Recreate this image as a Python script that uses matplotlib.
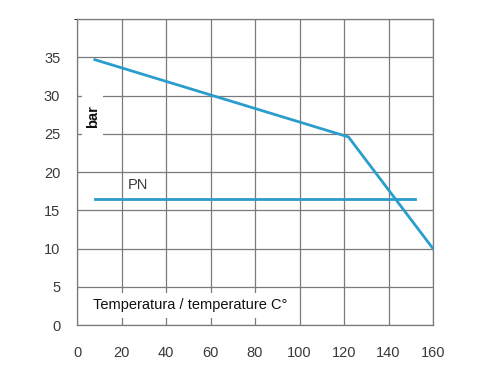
import matplotlib
matplotlib.use("Agg")
import matplotlib.pyplot as plt
from matplotlib.patches import Rectangle

# ── Data ──────────────────────────────────────────────────────────────────────
temp = [8, 122, 160]
pressure = [34.7, 24.6, 10.0]

pn_temp = [8, 152]
pn_pressure = [16.5, 16.5]

x_ticks = [0, 20, 40, 60, 80, 100, 120, 140, 160]
y_ticks = [0, 5, 10, 15, 20, 25, 30, 35]

LINE_COLOR = "#2a9dcc"
GRID_COLOR = "#7a7a7a"

plt.rcParams["font.family"] = ["Liberation Sans", "DejaVu Sans"]

# ── Plot ──────────────────────────────────────────────────────────────────────
fig = plt.figure(figsize=(5, 3.75), dpi=100)
ax = fig.add_axes([0.154, 0.133, 0.712, 0.816])

ax.set_xlim(0, 160)
ax.set_ylim(0, 40)
ax.set_xticks(x_ticks)
ax.set_yticks(y_ticks)
ax.set_yticks([40], minor=True)
ax.grid(True, which="both", color=GRID_COLOR, linewidth=0.9, zorder=0)
ax.tick_params(length=0, labelsize=10.5, labelcolor="#3a3a3a")
ax.tick_params(axis="x", pad=15)
ax.tick_params(axis="y", pad=12)
for s in ax.spines.values():
    s.set_color(GRID_COLOR)
    s.set_linewidth(0.9)

ax.plot(temp, pressure, color=LINE_COLOR, linewidth=2, zorder=3)
ax.plot(pn_temp, pn_pressure, color=LINE_COLOR, linewidth=2, zorder=3)

ax.text(27.5, 18.3, "PN", fontsize=10.5, color="#3a3a3a", ha="center", va="center", zorder=4)

# white patch behind the "bar" label, it cuts the 25 and 30 gridlines
ax.add_patch(Rectangle((2.2, 24.2), 9.5, 6.5, facecolor="white", edgecolor="none", zorder=2))
ax.text(7.2, 27.3, "bar", rotation=90, fontsize=10.5, fontweight="bold", color="#111111",
        ha="center", va="center", zorder=4)
ax.text(7.0, 2.6, "Temperatura / temperature C°", fontsize=10.5, color="#111111",
        ha="left", va="center", zorder=4,
        bbox=dict(facecolor="white", edgecolor="none", pad=4))

fig.savefig("out.png", dpi=100)
